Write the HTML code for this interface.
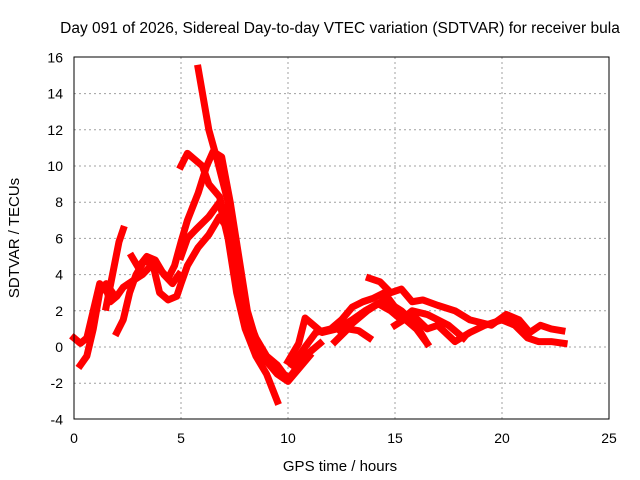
<!DOCTYPE html>
<html><head><meta charset="utf-8"><style>
body{margin:0;background:#fff;}
svg{display:block;font-family:"Liberation Sans",sans-serif;}
</style></head><body>
<svg id="chart" width="640" height="480">
<text x="340" y="33" font-size="15.5" text-anchor="middle">Day 091 of 2026, Sidereal Day-to-day VTEC variation (SDTVAR) for receiver bula</text>
<text x="340" y="471" font-size="15" text-anchor="middle">GPS time / hours</text>
<text transform="translate(19,238) rotate(-90)" font-size="15" text-anchor="middle">SDTVAR / TECUs</text>
<g id="grid"></g><g id="ticks"></g><g id="series"></g>
<rect x="74" y="57" width="535" height="362" fill="none" stroke="#000" stroke-width="1"/>
</svg>
<script>
const xTicks=[0,5,10,15,20,25];
const yTicks=[-4,-2,0,2,4,6,8,10,12,14,16];
const trackSpike=[[5.8,15.4],[6.3,12],[6.7,10.3],[7.2,8],[7.6,5],[8.0,2],[8.5,0.5],[9.0,-0.5],[9.5,-1],[10,-1.8],[10.5,-1],[11,-0.3],[11.5,0.2]];
const trackLow=[[5.0,5],[5.3,6],[5.7,6.5],[6.3,7.2],[6.8,8],[7.2,6],[7.6,3],[8.0,1],[8.5,-0.5],[9.0,-1.5],[9.5,-3]];
const trackA=[[5.0,10.0],[5.3,10.7],[5.6,10.4],[6.0,10.0],[6.3,9.0],[6.8,8.3],[7.2,6.5],[7.6,4],[8,2],[8.5,0],[9,-0.8],[9.5,-1.5],[10,-1.9],[10.5,-1.2],[11,-0.5]];
const trackB=[[0,0.5],[0.3,0.2],[0.6,0.5],[0.9,2],[1.2,3.5],[1.5,3.2],[1.7,2.5],[2.0,2.8],[2.3,3.3],[2.8,3.7],[3.2,4.0],[3.6,4.5],[4.0,4.3],[4.4,3.8],[4.7,4.5],[5.0,5.8],[5.3,7],[5.8,8.5],[6.2,10],[6.5,10.8],[6.9,10.5],[7.3,8],[7.7,5],[8.1,2],[8.6,0],[9.2,-1],[9.8,-1.5]];
const trackRise=[[1.5,2.2],[1.8,4],[2.1,5.8],[2.3,6.5]];
const trackC=[[0.3,-1.0],[0.6,-0.5],[0.9,1],[1.2,3],[1.5,3.5],[1.8,3.0]];
const trackD=[[2.0,0.8],[2.3,1.5],[2.6,3],[2.9,4.0],[3.3,4.8],[3.7,4.5],[4.0,3.0],[4.4,2.6],[4.8,2.8],[5.0,3.5],[5.3,4.5],[5.8,5.5],[6.3,6.2],[6.8,7.2],[7.2,6.5],[7.6,4.5]];
const trackE=[[2.7,5.0],[3.0,4.4],[3.4,5.0],[3.8,4.8],[4.2,4.0],[4.6,3.5],[4.9,4.0]];
const trackR1=[[10.2,-1.0],[10.8,0],[11.3,0.8],[12,1.0],[12.5,1.5],[13,2.2],[13.5,2.5],[14,2.7],[14.5,3.0],[15,2.2],[15.5,1.5],[16,1],[16.5,0.2]];
const trackR2=[[10.0,-0.8],[10.5,0.2],[10.8,1.6],[11.2,1.2],[11.6,0.8],[12.3,1.0],[13,1.5],[13.6,2.0],[14.2,2.4],[14.8,2.0],[15.3,1.5],[15.8,2.0],[16.5,1.8],[17.5,1.2],[18.2,0.5]];
const trackR3=[[13.8,3.8],[14.3,3.6],[14.8,3.0],[15.3,3.2],[15.8,2.5],[16.3,2.6],[17,2.3],[17.8,2.0],[18.5,1.5],[19.5,1.2],[20.2,1.8],[20.8,1.5],[21.3,0.8],[21.8,1.2],[22.3,1.0],[22.8,0.9]];
const trackR4=[[15,1.2],[15.8,1.8],[16.5,1.0],[17,1.2],[17.8,0.3],[18.5,0.8],[19.2,1.2],[20,1.5],[20.6,1.2],[21.2,0.5],[21.7,0.3],[22.3,0.3],[22.9,0.2]];
const trackR5=[[12.5,0.8],[13,1.3],[13.7,2.0],[14.5,2.6],[15.3,2.0],[16,1.2],[16.5,0.2]];
const trackR6=[[12.2,0.3],[12.8,1.0],[13.3,0.9],[13.8,0.5]];
const allTracks=[trackSpike,trackLow,trackA,trackB,trackRise,trackC,trackD,trackE,trackR1,trackR2,trackR3,trackR4,trackR5,trackR6];
const NS="http://www.w3.org/2000/svg";
function xs(t){return 74+t*(535/25);}
function ys(v){return 347-v*18.1;}
const grid=document.getElementById('grid'),ticks=document.getElementById('ticks'),ser=document.getElementById('series');
xTicks.forEach(t=>{
 if(t>0&&t<25){const l=document.createElementNS(NS,'line');
 l.setAttribute('x1',xs(t));l.setAttribute('x2',xs(t));l.setAttribute('y1',57);l.setAttribute('y2',419);
 l.setAttribute('stroke','#a0a0a0');l.setAttribute('stroke-dasharray','2,3');
 
 
 grid.appendChild(l);}
 const tx=document.createElementNS(NS,'text');
 tx.setAttribute('x',xs(t));tx.setAttribute('y',443);tx.setAttribute('font-size','14');tx.setAttribute('text-anchor','middle');
 tx.textContent=t;
 
 
 ticks.appendChild(tx);
});
yTicks.forEach(v=>{
 if(v>-4&&v<16){const l=document.createElementNS(NS,'line');
 l.setAttribute('x1',74);l.setAttribute('x2',609);l.setAttribute('y1',ys(v));l.setAttribute('y2',ys(v));
 l.setAttribute('stroke','#a0a0a0');l.setAttribute('stroke-dasharray','2,3');
 
 
 grid.appendChild(l);}
 const tx=document.createElementNS(NS,'text');
 tx.setAttribute('x',63);tx.setAttribute('y',ys(v)+5);tx.setAttribute('font-size','14');tx.setAttribute('text-anchor','end');
 tx.textContent=v;
 
 
 ticks.appendChild(tx);
});
allTracks.forEach(tr=>{
 const p=document.createElementNS(NS,'polyline');
 p.setAttribute('points',tr.map(d=>xs(d[0])+','+ys(d[1])).join(' '));
 p.setAttribute('fill','none');p.setAttribute('stroke','#ff0000');p.setAttribute('stroke-width','7');
 p.setAttribute('stroke-linejoin','round');p.setAttribute('stroke-linecap','square');
 
 
 ser.appendChild(p);
});
</script>
</body></html>
